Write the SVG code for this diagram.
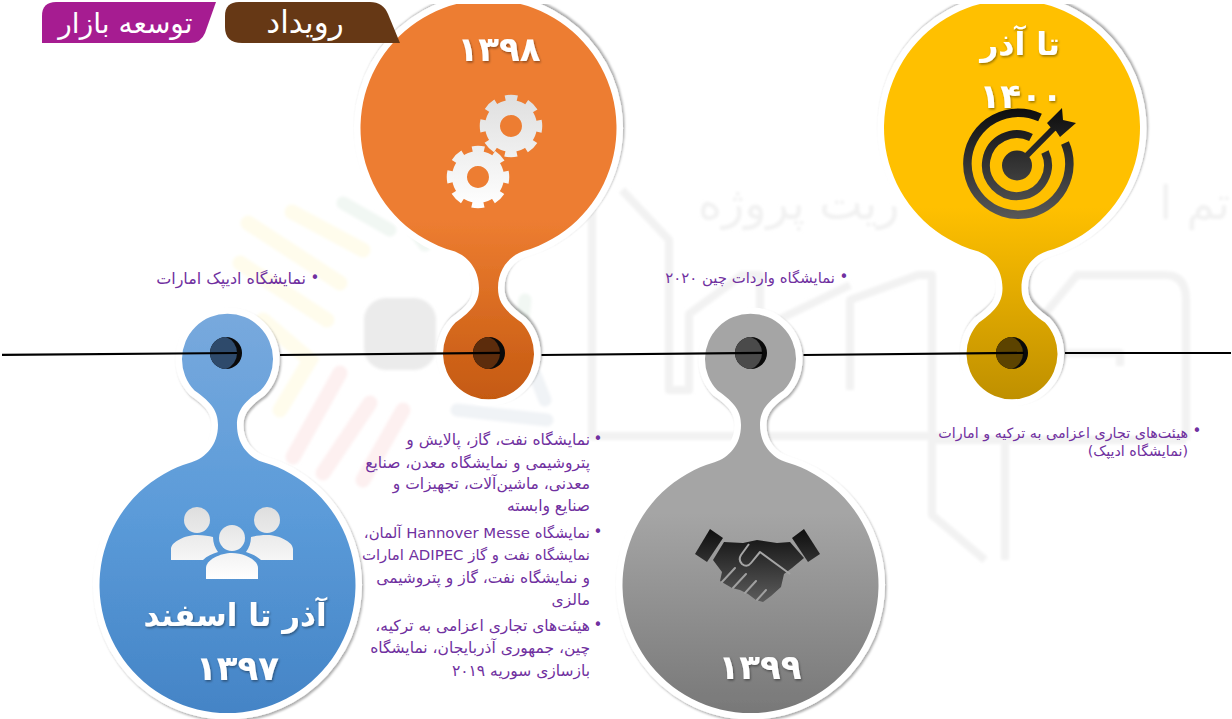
<svg xmlns="http://www.w3.org/2000/svg" width="1232" height="719" viewBox="0 0 1232 719">
<style>
text{font-family:"DejaVu Sans","Noto Sans",sans-serif}
.pinshape{stroke:#fff;stroke-width:13;paint-order:stroke;filter:url(#sh)}
.body{font-size:15.5px;fill:#7030A0;direction:rtl;text-anchor:start}
.b16{font-size:16px}
.b15{font-size:14.9px}
.b14{font-size:14.3px}
.bul{font-size:15px;fill:#7030A0;text-anchor:middle}
.head{font-weight:bold;fill:#fff;text-anchor:middle;filter:url(#ts);direction:rtl}
.num{font-size:34px;letter-spacing:2.5px}
.tab{fill:#fff;text-anchor:middle;direction:rtl}
.tl{stroke:#000;stroke-width:2.2;fill:none}
.wm{fill:none;stroke:#f2f2f2;stroke-width:8;stroke-linejoin:round}
.wy{fill:none;stroke:#fffcec;stroke-width:15;stroke-linecap:round}
.wr{fill:none;stroke:#fdf0f0;stroke-width:15;stroke-linecap:round}
.wg{fill:none;stroke:#f1f7f3;stroke-width:13;stroke-linecap:round}
.wb{fill:none;stroke:#f0f3f6;stroke-width:13;stroke-linecap:round}
.wt{font-size:46px;fill:#f1f1f1}
</style>
<defs>
<filter id="sh" x="-10%" y="-10%" width="120%" height="120%"><feDropShadow dx="1.5" dy="2" stdDeviation="1.2" flood-color="#000" flood-opacity=".32"/></filter>
<filter id="ts" x="-10%" y="-20%" width="120%" height="140%"><feDropShadow dx="1" dy="1.5" stdDeviation=".8" flood-color="#000" flood-opacity=".4"/></filter>
<filter id="wb" x="-5%" y="-5%" width="110%" height="110%"><feGaussianBlur stdDeviation="1.4"/></filter>
<linearGradient id="gBlue" x1="0" y1="0" x2="0" y2="1"><stop offset="0" stop-color="#78A9DD"/><stop offset=".5" stop-color="#5B9BD9"/><stop offset="1" stop-color="#4484C6"/></linearGradient>
<linearGradient id="gGray" x1="0" y1="0" x2="0" y2="1"><stop offset="0" stop-color="#A5A5A5"/><stop offset=".5" stop-color="#A5A5A5"/><stop offset="1" stop-color="#787878"/></linearGradient>
<linearGradient id="gOrange" x1="0" y1="1" x2="0" y2="0"><stop offset="0" stop-color="#ED7D31"/><stop offset=".55" stop-color="#ED7D31"/><stop offset="1" stop-color="#C55A11"/></linearGradient>
<linearGradient id="gGold" x1="0" y1="1" x2="0" y2="0"><stop offset="0" stop-color="#FFC000"/><stop offset=".52" stop-color="#FFC000"/><stop offset="1" stop-color="#BF9000"/></linearGradient>
<linearGradient id="gLight" gradientUnits="userSpaceOnUse" x1="0" y1="95" x2="0" y2="208"><stop offset="0" stop-color="#dfdfdf"/><stop offset="1" stop-color="#fff"/></linearGradient>
<linearGradient id="gPeople" gradientUnits="userSpaceOnUse" x1="0" y1="507" x2="0" y2="580"><stop offset="0" stop-color="#dedede"/><stop offset="1" stop-color="#fff"/></linearGradient>
<linearGradient id="gTarget" gradientUnits="userSpaceOnUse" x1="0" y1="108" x2="0" y2="220"><stop offset="0" stop-color="#0d0d0d"/><stop offset="1" stop-color="#595959"/></linearGradient>
<linearGradient id="gShake" gradientUnits="userSpaceOnUse" x1="0" y1="528" x2="0" y2="602"><stop offset="0" stop-color="#0d0d0d"/><stop offset="1" stop-color="#5c5c5c"/></linearGradient>
<path id="pin" d="M36,-122.8A128,128 0 1 1 -36,-122.8C-22,-127 -9.5,-140 -9.5,-160C-9.5,-173 -15,-182 -33,-194.5A45.5,45.5 0 1 1 33,-194.5C15,-182 9.5,-173 9.5,-160C9.5,-140 22,-127 36,-122.8Z"/>
<g id="dot"><circle r="16" fill="#0a0a0a"/></g>
<path id="lens" d="M0,-16A16,16 0 0 0 0,16A17.1,17.1 0 0 0 0,-16Z"/>
</defs>

<rect width="1232" height="719" fill="#fff"/>

<g id="watermark" filter="url(#wb)">
<g class="wm">
<path d="M585,180L592,190V436H945"/>
<path d="M622,190L669,240V390H689V314L742,275H760V390H782V318L850,285"/>
<path d="M850,390V300L918,275H932V515L985,560"/>
<path d="M1005,435V560"/>
<path d="M1040,320L1077,275H1165Q1186,275 1186,300V440"/>
<path d="M1065,353H1120V366"/>
<path d="M936,440H1186"/>
</g>
<rect x="364" y="298" width="72" height="72" rx="22" fill="#ebebeb"/>
<g class="wy"><path d="M292,212L363,250"/><path d="M248,223L340,283"/><path d="M240,263L327,320"/><path d="M263,320L310,360L280,410"/></g>
<g class="wr"><path d="M340,373L293,457"/><path d="M370,403L323,473"/><path d="M403,410L363,480"/></g>
<g class="wg"><path d="M343,203L390,230"/><path d="M410,225L425,245"/><path d="M520,345L525,300"/></g>
<g class="wb"><path d="M457,410L547,420"/><path d="M535,375L545,400"/></g>
<text class="wt" x="698" y="219">ریت پروژه</text>
<text class="wt" x="1230" y="219" style="direction:rtl;text-anchor:start">تم ا</text>
</g>

<g id="node-1397">
<use href="#pin" class="pinshape" fill="url(#gBlue)" transform="translate(227.5,585)"/>
<g transform="translate(226,353)"><use href="#dot"/><use href="#lens" fill="#2E4A6B"/></g>
<g fill="url(#gPeople)">
<circle cx="197" cy="520" r="13"/><circle cx="267" cy="520" r="13"/><circle cx="232" cy="538" r="13"/>
<path d="M171,560V549C171,542 185,535 197,535C204,535 209,536 213,537C213,543 215,548 218,552C212,554 207,556 203,560Z"/>
<path d="M293,560V549C293,542 279,535 267,535C260,535 255,536 251,537C251,543 249,548 246,552C252,554 257,556 261,560Z"/>
<path d="M206,579V568C206,560 220,553 232,553C244,553 258,560 258,568V579Z"/>
</g>
<text class="head" x="235" y="626" font-size="31">آذر تا اسفند</text>
<text class="head num" x="237.5" y="680">۱۳۹۷</text>
</g>

<g id="node-1398">
<use href="#pin" class="pinshape" fill="url(#gOrange)" transform="translate(488.5,128) scale(1,-1)"/>
<g transform="translate(489,353)"><use href="#dot"/><use href="#lens" fill="#5C2C0C"/></g>
<g id="gears">
<path fill="url(#gLight)" fill-rule="evenodd" d="M511,100a26,26 0 1 0 .01,0ZM511,115a11,11 0 1 1 -.01,0Z"/>
<circle cx="511" cy="126" r="28" fill="none" stroke="url(#gLight)" stroke-width="6.5" stroke-dasharray="12 10" stroke-dashoffset="6"/>
<path fill="url(#gLight)" fill-rule="evenodd" d="M478,151a26,26 0 1 0 .01,0ZM478,166a11,11 0 1 1 -.01,0Z"/>
<circle cx="478" cy="177" r="28" fill="none" stroke="url(#gLight)" stroke-width="6.5" stroke-dasharray="12 10" stroke-dashoffset="6"/>
</g>
<text class="head num" x="499" y="61">۱۳۹۸</text>
</g>

<g id="node-1399">
<use href="#pin" class="pinshape" fill="url(#gGray)" transform="translate(750.5,585)"/>
<g transform="translate(751,353)"><use href="#dot"/><use href="#lens" fill="#4A4A4A"/></g>
<g id="handshake">
<path fill="url(#gShake)" d="M710,529L723,538L707,562L695,554Z"/>
<path fill="url(#gShake)" d="M804,529L792,538L808,562L820,554Z"/>
<path fill="url(#gShake)" d="M724,542L743,543L757,540L777,543L790,542L804,558L792,568L784,574L781,587L771,596L763,602L756,600L748,594L740,590L732,588L720,581L722,572L713,560Z"/>
<path fill="none" stroke="#A5A5A5" stroke-width="2" stroke-linejoin="round" d="M749,544L741,555Q738,560 742,564Q747,568 751,563L760,552L790,574"/>
<path fill="none" stroke="#A0A0A0" stroke-width="2" stroke-linecap="round" d="M735,568L722,582M746,574L733,588M756,581L745,593M766,590L757,600"/>
</g>
<text class="head num" x="760" y="679">۱۳۹۹</text>
</g>

<g id="node-1400">
<use href="#pin" class="pinshape" fill="url(#gGold)" transform="translate(1012,128) scale(1,-1)"/>
<g transform="translate(1012,353)"><use href="#dot"/><use href="#lens" fill="#5C4300"/></g>
<g id="target">
<path fill="none" stroke="url(#gTarget)" stroke-width="8.5" d="M1040,117.5A51,51 0 1 0 1065,143"/>
<path fill="none" stroke="url(#gTarget)" stroke-width="8" d="M1031,137.5A31,31 0 1 0 1045,152"/>
<circle cx="1017" cy="165.5" r="15" fill="url(#gTarget)"/>
<path fill="none" stroke="url(#gTarget)" stroke-width="6" d="M1017,165.5L1055,127"/>
<path fill="url(#gTarget)" d="M1047,123L1062,108L1063,120L1076,123L1060,137L1056,131L1052,129Z"/>
</g>
<text class="head" x="1020" y="55" font-size="31.5">تا آذر</text>
<text class="head num" x="1021" y="108" style="letter-spacing:6px">۱۴۰۰</text>
</g>

<rect id="top-cut" width="1232" height="4" fill="#fff"/>

<g id="connectors">
<path class="tl" d="M2,354.9L237,353"/>
<path class="tl" d="M280,355L500,352.8"/>
<path class="tl" d="M541.5,355L762.6,352.8"/>
<path class="tl" d="M803.5,355L1024,352.9"/>
<path class="tl" d="M1065,353L1231,353"/>
</g>

<g id="tab-event">
<path fill="#663815" d="M225,16Q225,2 239,2H370Q383,2 388,14L400,43H242Q225,43 225,27Z"/>
<text class="tab" x="305" y="33" font-size="31">رویداد</text>
</g>
<g id="tab-market">
<path fill="#A61C91" d="M42,43V16Q42,2 56,2H216L205,33Q201,43 190,43Z"/>
<text class="tab" x="125.5" y="33" font-size="28">توسعه بازار</text>
</g>

<g id="text-1397">
<text class="bul" x="315" y="283">•</text>
<text class="body b16" x="306" y="284">نمایشگاه ادیپک امارات</text>
</g>
<g id="text-1398">
<text class="bul" x="598" y="444">•</text>
<text class="body" x="590" y="445">نمایشگاه نفت، گاز، پالایش و</text>
<text class="body" x="590" y="468">پتروشیمی و نمایشگاه معدن، صنایع</text>
<text class="body" x="590" y="489">معدنی، ماشین‌آلات، تجهیزات و</text>
<text class="body" x="590" y="511">صنایع وابسته</text>
<text class="bul" x="598" y="537">•</text>
<text class="body b15" x="590" y="538">نمایشگاه Hannover Messe آلمان،</text>
<text class="body b15" x="590" y="560">نمایشگاه نفت و گاز ADIPEC امارات</text>
<text class="body" x="590" y="583">و نمایشگاه نفت، گاز و پتروشیمی</text>
<text class="body" x="590" y="605">مالزی</text>
<text class="bul" x="598" y="630">•</text>
<text class="body" x="590" y="631">هیئت‌های تجاری اعزامی به ترکیه،</text>
<text class="body" x="590" y="653">چین، جمهوری آذربایجان، نمایشگاه</text>
<text class="body" x="590" y="676">بازسازی سوریه  ۲۰۱۹</text>
</g>
<g id="text-1399">
<text class="bul" x="844" y="282">•</text>
<text class="body b15" x="835" y="283">نمایشگاه واردات چین ۲۰۲۰</text>
</g>
<g id="text-1400">
<text class="bul" x="1197" y="436">•</text>
<text class="body b14" x="1188" y="438">هیئت‌های تجاری اعزامی به ترکیه و امارات</text>
<text class="body b14" x="1188" y="456">(نمایشگاه ادیپک)</text>
</g>
</svg>
